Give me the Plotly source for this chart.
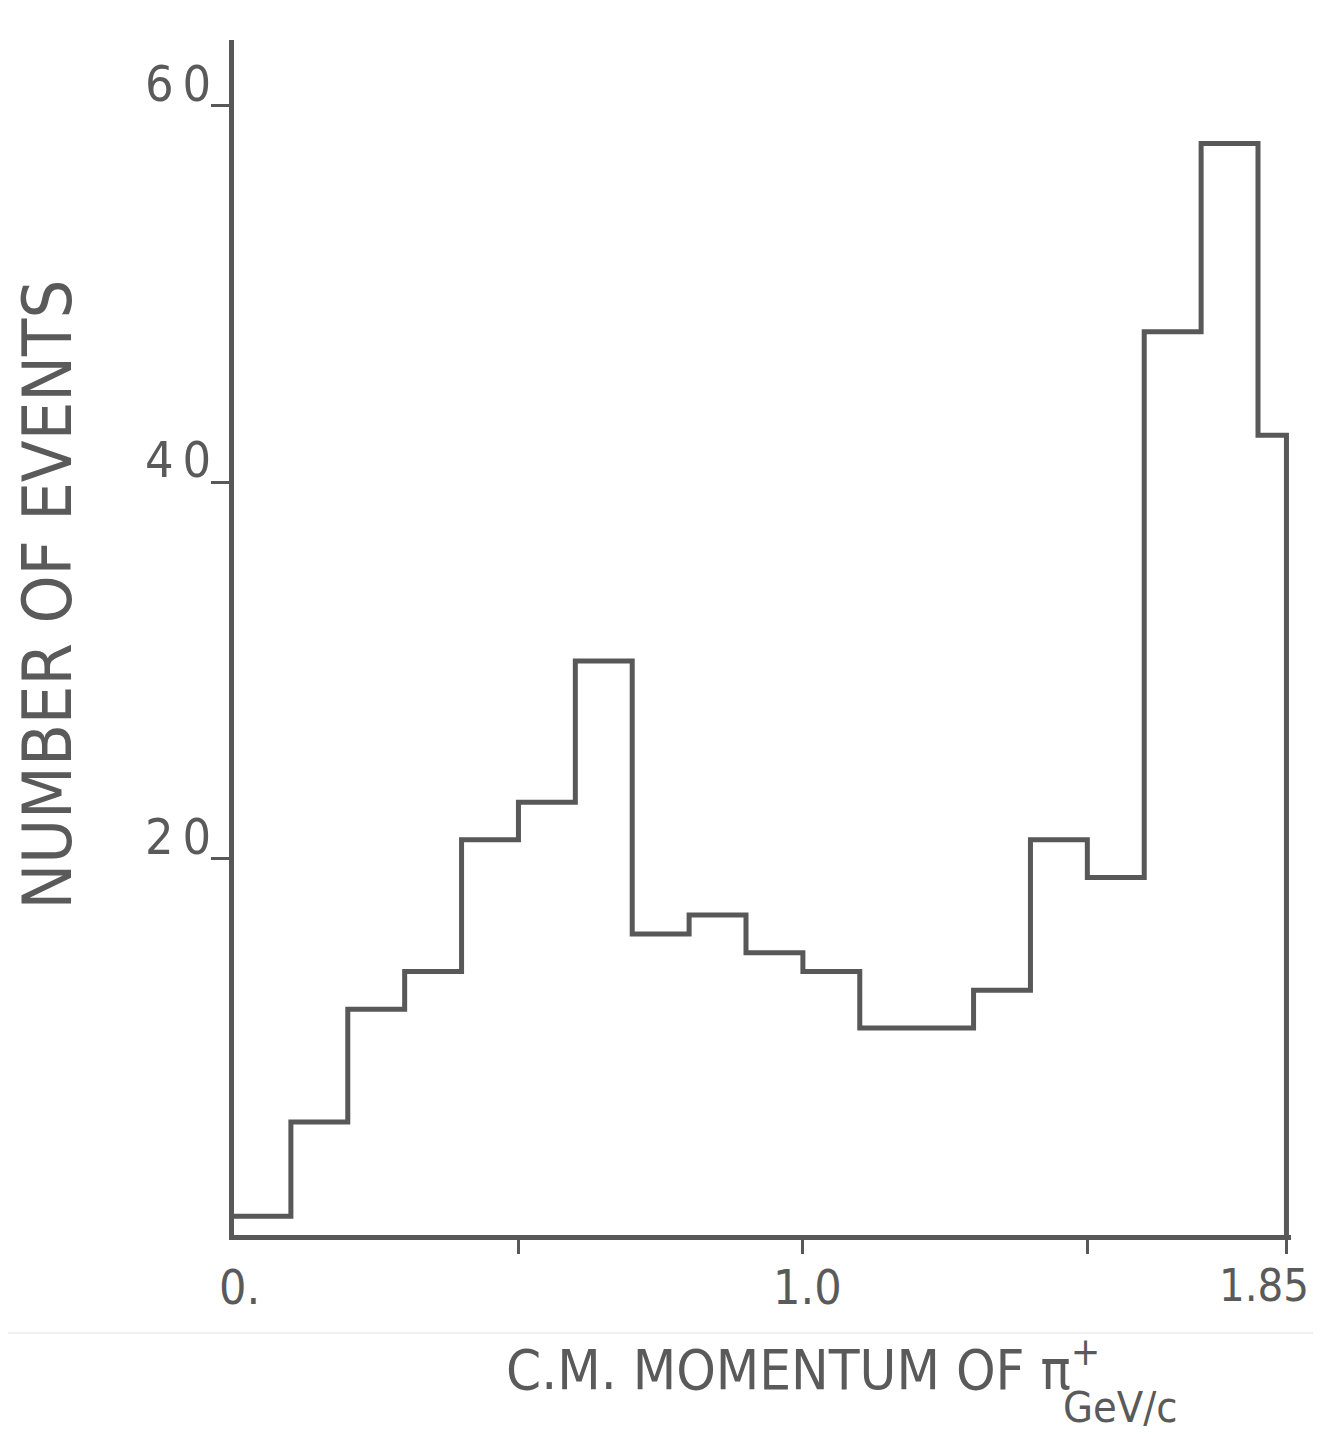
import plotly.graph_objects as go

# Histogram data: C.M. momentum of pi+ (GeV/c), bins of 0.1 (last bin 1.8-1.85)
bin_edges = [0.0, 0.1, 0.2, 0.3, 0.4, 0.5, 0.6, 0.7, 0.8, 0.9, 1.0,
             1.1, 1.2, 1.3, 1.4, 1.5, 1.6, 1.7, 1.8, 1.85]
counts = [1, 6, 12, 14, 21, 23, 30.5, 16, 17, 15, 14,
          11, 11, 13, 21, 19, 48, 58, 42.5]

y_tick_vals = [20, 40, 60]
y_tick_text = ["2\u20090", "4\u20090", "6\u20090"]
x_tick_vals = [0.5, 1.0, 1.5, 1.85]
x_label_vals = [0.0, 1.0, 1.85]
x_label_text = ["0.", "1.0", "1.85"]

INK = "#585858"
TXT = "#5a5a5a"
FONT = "DejaVu Sans Condensed, DejaVu Sans, sans-serif"

# step outline
xs = list(bin_edges[:-1]) + [bin_edges[-1], bin_edges[-1]]
ys = list(counts) + [counts[-1], 0]

fig = go.Figure()
fig.add_trace(go.Scatter(x=xs, y=ys, mode="lines", line_shape="hv",
                         line=dict(color=INK, width=5), hoverinfo="skip",
                         showlegend=False))

annotations = []
for v, t in zip(y_tick_vals, y_tick_text):
    annotations.append(dict(x=0, xref="paper", y=v, yref="y", text=t,
                            xanchor="right", yanchor="middle", xshift=-21, yshift=22,
                            showarrow=False, font=dict(size=50, color=TXT, family=FONT)))
x_shifts = [5, 5, -22]
x_sizes = [48, 48, 45]
for v, t, s, fs in zip(x_label_vals, x_label_text, x_shifts, x_sizes):
    annotations.append(dict(x=v, xref="x", y=0, yref="y", text=t,
                            xanchor="center", yanchor="top", yshift=-22, xshift=s,
                            showarrow=False, font=dict(size=fs, color=TXT, family=FONT)))

annotations.append(dict(x=-0.176, xref="paper", y=0.536, yref="paper", text="NUMBER OF EVENTS",
                        textangle=-90, xanchor="center", yanchor="middle", showarrow=False,
                        font=dict(size=68, color=TXT, family=FONT)))
annotations.append(dict(x=1.0, xref="x", y=0, yref="y", text="C.M. MOMENTUM OF π<sup>+</sup>",
                        xanchor="center", yanchor="middle", yshift=-130,
                        showarrow=False, font=dict(size=56, color=TXT, family=FONT)))
annotations.append(dict(x=1.558, xref="x", y=0, yref="y", text="GeV/c",
                        xanchor="center", yanchor="middle", yshift=-172,
                        showarrow=False, font=dict(size=43, color=TXT, family=FONT)))

fig.update_layout(
    width=1313, height=1426,
    margin=dict(l=226, r=30, t=32, b=199),
    paper_bgcolor="white", plot_bgcolor="white",
    showlegend=False,
    annotations=annotations,
    shapes=[dict(type="line", xref="paper", yref="paper", x0=-0.25, x1=1.1,
                 y0=-0.082, y1=-0.082, line=dict(color="#e2e2e2", width=1))],
    xaxis=dict(range=[0, 1.858], showgrid=False, zeroline=False,
               showline=True, linecolor=INK, linewidth=5,
               tickmode="array", tickvals=x_tick_vals, ticks="outside",
               ticklen=14, tickwidth=3, tickcolor=INK, showticklabels=False),
    yaxis=dict(range=[0, 63.5], showgrid=False, zeroline=False,
               showline=True, linecolor=INK, linewidth=5,
               tickmode="array", tickvals=y_tick_vals, ticks="outside",
               ticklen=18, tickwidth=3, tickcolor=INK, showticklabels=False),
)

fig.write_html("out.html")
